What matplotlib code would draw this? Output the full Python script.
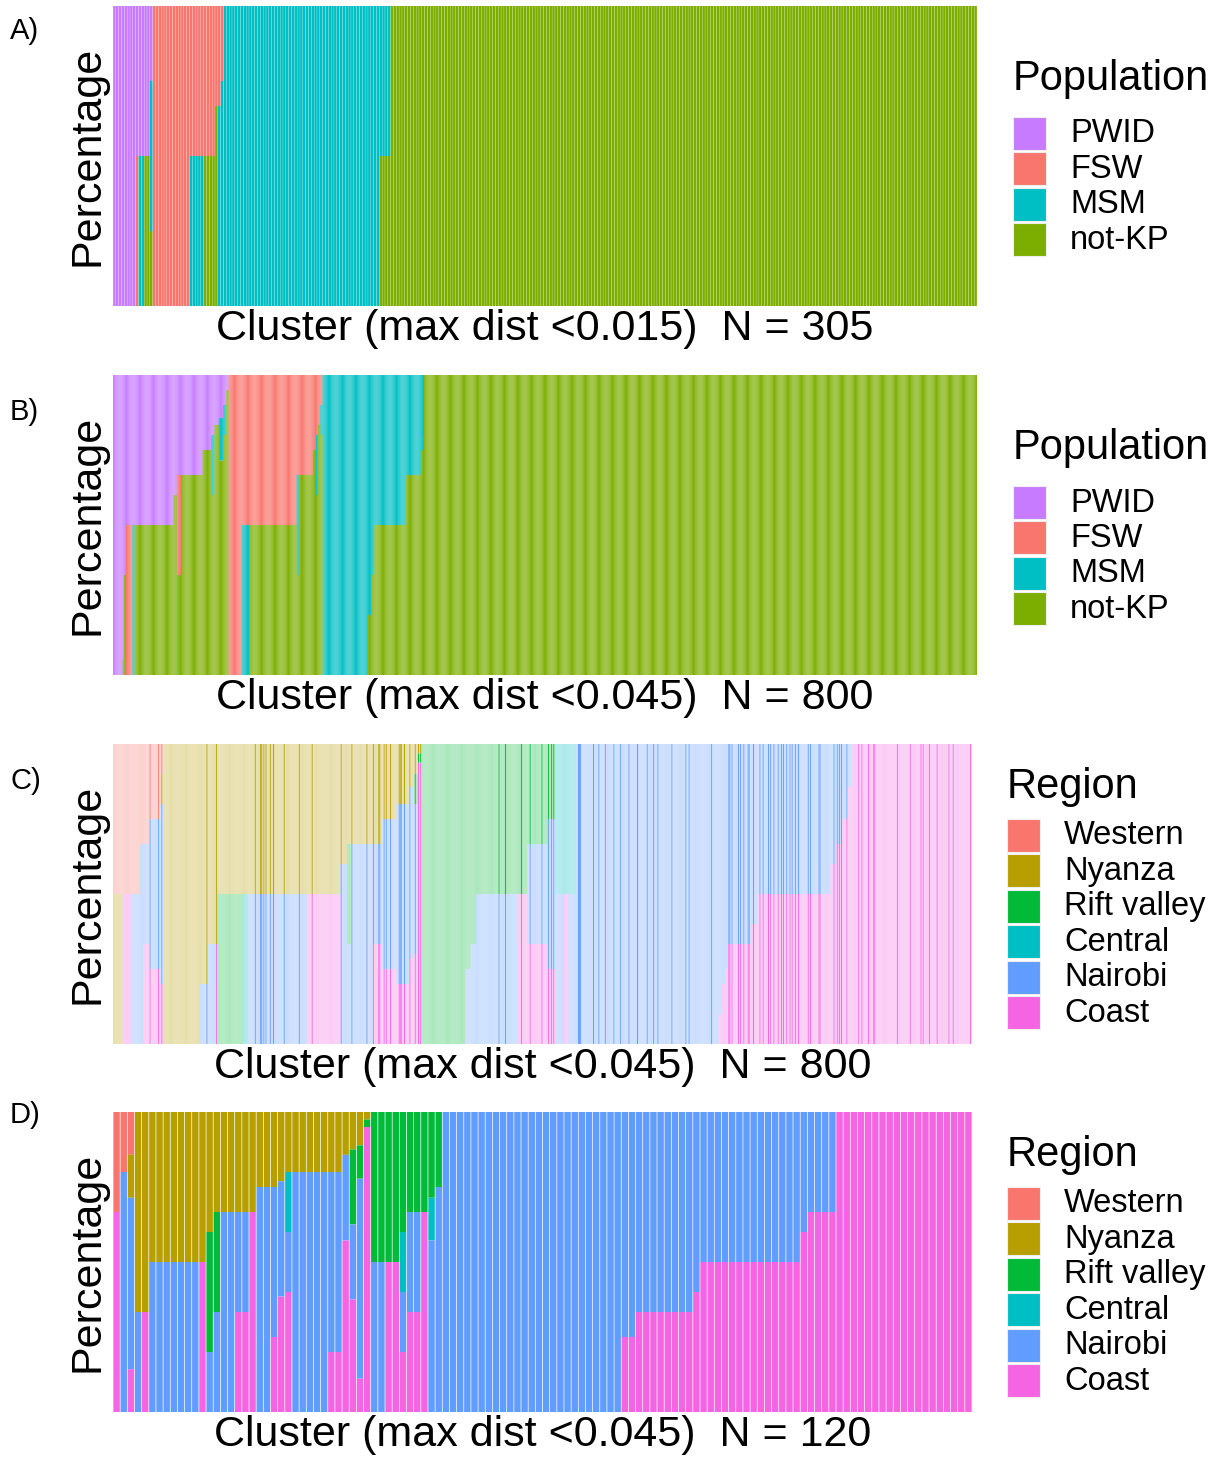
import numpy as np
import matplotlib
matplotlib.use("Agg")
import matplotlib.pyplot as plt
from matplotlib.colors import to_rgba
from matplotlib.patches import Rectangle

plt.rcParams['font.family'] = ['Liberation Sans', 'DejaVu Sans']

# categories and their ggplot hue colours
pop_names = ['PWID', 'FSW', 'MSM', 'not-KP']
pop_colors = ['#C77CFF', '#F8766D', '#00BFC4', '#7CAE00']
region_names = ['Western', 'Nyanza', 'Rift valley', 'Central', 'Nairobi', 'Coast']
region_colors = ['#F8766D', '#B79F00', '#00BA38', '#00BFC4', '#619CFF', '#F564E3']

# clusters as runs: (number of clusters, members per category)
# A/B order: PWID, FSW, MSM, not-KP
runs_a = [
    (8, (1, 0, 0, 0)), (1, (1, 1, 0, 0)), (2, (1, 0, 1, 0)), (2, (1, 0, 0, 1)),
    (1, (1, 0, 2, 1)), (13, (0, 1, 0, 0)), (5, (0, 1, 1, 0)), (4, (0, 1, 0, 1)),
    (1, (0, 1, 0, 2)), (1, (0, 1, 2, 0)), (1, (0, 1, 3, 0)), (55, (0, 0, 1, 0)),
    (4, (0, 0, 1, 1)), (207, (0, 0, 0, 1)),
]

runs_b = [
    (9, (1, 0, 0, 0)), (1, (19, 0, 0, 1)), (2, (2, 0, 0, 1)), (6, (1, 1, 0, 0)),
    (2, (1, 0, 1, 0)), (36, (1, 0, 0, 1)), (3, (2, 0, 0, 3)), (1, (1, 1, 1, 0)),
    (3, (1, 1, 0, 1)), (20, (1, 0, 0, 2)), (8, (1, 0, 0, 3)), (3, (1, 0, 1, 3)),
    (4, (1, 0, 0, 5)), (4, (1, 0, 1, 5)), (3, (1, 0, 1, 8)), (2, (1, 0, 0, 19)),
    (12, (0, 1, 0, 0)), (7, (0, 1, 1, 0)), (44, (0, 1, 0, 1)), (2, (0, 1, 1, 1)),
    (13, (0, 1, 0, 2)), (3, (0, 1, 0, 3)), (2, (0, 1, 1, 3)), (2, (0, 1, 0, 5)),
    (2, (0, 1, 1, 8)),
    (42, (0, 0, 1, 0)), (3, (0, 0, 4, 1)), (3, (0, 0, 2, 1)), (29, (0, 0, 1, 1)),
    (14, (0, 0, 1, 2)), (2, (0, 0, 1, 3)), (1, (0, 0, 1, 4)),
    (512, (0, 0, 0, 1)),
]

# C/D order: Western, Nyanza, Rift valley, Central, Nairobi, Coast
runs_c = [
    (9, (1, 1, 0, 0, 0, 0)), (8, (1, 0, 0, 0, 0, 1)), (8, (1, 0, 0, 0, 1, 0)),
    (3, (1, 0, 0, 0, 2, 0)), (6, (1, 0, 0, 0, 1, 1)), (9, (1, 0, 0, 0, 2, 1)),
    (2, (1, 0, 0, 0, 3, 1)), (2, (1, 1, 0, 0, 6, 2)),
    (34, (0, 1, 0, 0, 0, 0)), (7, (0, 4, 0, 0, 1, 0)), (8, (0, 2, 0, 0, 1, 0)),
    (1, (0, 2, 0, 0, 0, 1)), (24, (0, 1, 1, 0, 0, 0)), (5, (0, 1, 0, 1, 0, 0)),
    (55, (0, 1, 0, 0, 1, 0)), (31, (0, 1, 0, 0, 0, 1)), (6, (0, 2, 0, 0, 3, 0)),
    (4, (0, 1, 1, 0, 1, 0)), (20, (0, 1, 0, 0, 2, 0)), (8, (0, 1, 0, 0, 1, 1)),
    (14, (0, 1, 0, 0, 2, 1)), (12, (0, 1, 0, 0, 3, 1)), (4, (0, 1, 0, 0, 4, 2)),
    (4, (0, 1, 1, 0, 5, 3)), (3, (0, 1, 1, 0, 0, 30)),
    (41, (0, 0, 1, 0, 0, 0)), (5, (0, 0, 3, 0, 1, 0)), (5, (0, 0, 2, 0, 1, 0)),
    (39, (0, 0, 1, 0, 1, 0)), (9, (0, 0, 1, 0, 0, 1)), (19, (0, 0, 1, 0, 1, 1)),
    (7, (0, 0, 1, 0, 2, 1)),
    (8, (0, 0, 0, 1, 1, 0)), (4, (0, 0, 0, 1, 0, 1)), (7, (0, 0, 0, 1, 1, 0)),
    (133, (0, 0, 0, 0, 1, 0)), (3, (0, 0, 0, 0, 9, 1)), (3, (0, 0, 0, 0, 4, 1)),
    (3, (0, 0, 0, 0, 3, 1)), (21, (0, 0, 0, 0, 2, 1)), (6, (0, 0, 0, 0, 3, 2)),
    (68, (0, 0, 0, 0, 1, 1)), (5, (0, 0, 0, 0, 2, 3)), (6, (0, 0, 0, 0, 1, 2)),
    (5, (0, 0, 0, 0, 1, 3)), (4, (0, 0, 0, 0, 1, 6)),
    (112, (0, 0, 0, 0, 0, 1)),
]

# clusters of panel C shown in full colour
c_highlight = [
    34, 42, 45,
    87, 96, 132, 137, 138, 140, 142, 146, 149, 159, 173, 185, 212, 222, 236,
    242, 247, 248, 252, 254, 258, 266, 267, 268, 271, 276, 281, 284, 286,
    359, 365, 380, 388, 399, 405, 408, 410,
    433, 434, 435, 447, 452, 458, 466, 472, 480, 488, 497, 503, 507, 520, 533,
    536, 557, 573, 574, 576, 582, 584, 587, 591, 592, 596, 602, 605, 610, 612,
    615, 619, 622, 624, 627, 630, 632, 635, 638, 647, 649, 657, 658, 671, 674,
    676, 678, 683,
    694, 697, 703, 708, 709, 730, 742, 752, 754, 760, 767, 778, 782, 798,
]

runs_d = [
    (1, (1, 0, 0, 0, 0, 2)), (1, (1, 0, 0, 0, 4, 0)), (1, (1, 1, 0, 0, 4, 1)),
    (1, (0, 2, 0, 0, 1, 0)), (1, (0, 2, 0, 0, 0, 1)), (7, (0, 1, 0, 0, 1, 0)),
    (1, (0, 1, 0, 0, 0, 1)), (1, (0, 2, 2, 0, 1, 0)), (1, (0, 1, 1, 0, 1, 0)),
    (2, (0, 1, 0, 0, 2, 0)), (2, (0, 1, 0, 0, 1, 1)), (1, (0, 1, 0, 0, 0, 2)),
    (2, (0, 1, 0, 0, 3, 0)), (1, (0, 1, 0, 0, 2, 1)), (1, (0, 3, 0, 0, 5, 5)),
    (1, (0, 1, 0, 1, 1, 2)), (5, (0, 1, 0, 0, 4, 0)), (2, (0, 1, 0, 0, 3, 1)),
    (1, (0, 1, 0, 0, 2, 4)), (1, (0, 1, 2, 0, 2, 3)), (1, (0, 1, 1, 0, 6, 1)),
    (1, (0, 1, 1, 0, 0, 38)),
    (2, (0, 0, 1, 0, 1, 0)), (2, (0, 0, 1, 0, 0, 1)), (1, (0, 0, 2, 1, 1, 1)),
    (2, (0, 0, 1, 0, 1, 1)), (1, (0, 0, 1, 0, 0, 2)), (1, (0, 0, 2, 1, 4, 0)),
    (1, (0, 0, 1, 0, 3, 0)),
    (25, (0, 0, 0, 0, 1, 0)), (2, (0, 0, 0, 0, 3, 1)), (8, (0, 0, 0, 0, 2, 1)),
    (1, (0, 0, 0, 0, 3, 2)), (14, (0, 0, 0, 0, 1, 1)), (1, (0, 0, 0, 0, 2, 3)),
    (4, (0, 0, 0, 0, 1, 2)), (19, (0, 0, 0, 0, 0, 1)),
]

W, H = 1218, 1458


def expand(runs):
    counts = [r[0] for r in runs]
    shares = np.array([np.array(r[1], float) / sum(r[1]) for r in runs])
    return np.repeat(shares, counts, axis=0)


def stacked(ax, shares, colors, alphas=None):
    n = len(shares)
    x = np.arange(n)
    top = np.ones(n)
    # first category sits on top, like ggplot's stacking
    for k, col in enumerate(colors):
        h = shares[:, k]
        rgba = np.tile(to_rgba(col), (n, 1))
        if alphas is not None:
            rgba[:, 3] = alphas
        m = h > 0
        bars = ax.bar(x[m], h[m], bottom=(top - h)[m], width=0.9,
                      color=rgba[m], linewidth=0)
        for b in bars:
            b.set_snap(False)
        top = top - h
    ax.set_xlim(-0.5, n - 0.5)
    ax.set_ylim(0, 1)
    ax.set_xticks([])
    ax.set_yticks([])
    for s in ax.spines.values():
        s.set_visible(False)
    ax.set_ylabel('Percentage', fontsize=31, labelpad=4)


def key(fig, left, base, key_top, title, names, colors):
    fig.text(left / W, 1 - base / H, title, fontsize=30, va='baseline')
    for i, (nm, col) in enumerate(zip(names, colors)):
        y = key_top + i * 35.4
        fig.add_artist(Rectangle((left / W, 1 - (y + 33) / H), 33 / W, 33 / H,
                                 transform=fig.transFigure, facecolor=col,
                                 edgecolor='#eeeeee', lw=0.8))
        fig.text((left + 57) / W, 1 - (y + 17) / H, nm, fontsize=23.5,
                 va='center')


def panel(fig, x0, x1, y0, y1):
    return fig.add_axes([x0 / W, 1 - y1 / H, (x1 - x0) / W, (y1 - y0) / H])


fig = plt.figure(figsize=(W / 100, H / 100), dpi=100)

ax = panel(fig, 113, 977, 6, 306)
stacked(ax, expand(runs_a), pop_colors)
ax.set_xlabel('Cluster (max dist <0.015)  N = 305', fontsize=31, labelpad=2)
key(fig, 1013, 90, 117, 'Population', pop_names, pop_colors)

ax = panel(fig, 113, 977, 375, 675)
stacked(ax, expand(runs_b), pop_colors)
ax.set_xlabel('Cluster (max dist <0.045)  N = 800', fontsize=31, labelpad=2)
key(fig, 1013, 459, 486, 'Population', pop_names, pop_colors)

ax = panel(fig, 113, 972, 744, 1044)
shares_c = expand(runs_c)
alpha_c = np.full(len(shares_c), 0.35)
alpha_c[c_highlight] = 1.0
stacked(ax, shares_c, region_colors, alpha_c)
ax.set_xlabel('Cluster (max dist <0.045)  N = 800', fontsize=31, labelpad=2)
key(fig, 1007, 798, 819, 'Region', region_names, region_colors)

ax = panel(fig, 113, 972, 1112, 1412)
stacked(ax, expand(runs_d), region_colors)
ax.set_xlabel('Cluster (max dist <0.045)  N = 120', fontsize=31, labelpad=2)
key(fig, 1007, 1166, 1187, 'Region', region_names, region_colors)

for lab, yc in zip(['A)', 'B)', 'C)', 'D)'], [31, 412, 781, 1115]):
    fig.text(10 / W, 1 - yc / H, lab, fontsize=21, va='center')

fig.savefig('out.png', dpi=100)
